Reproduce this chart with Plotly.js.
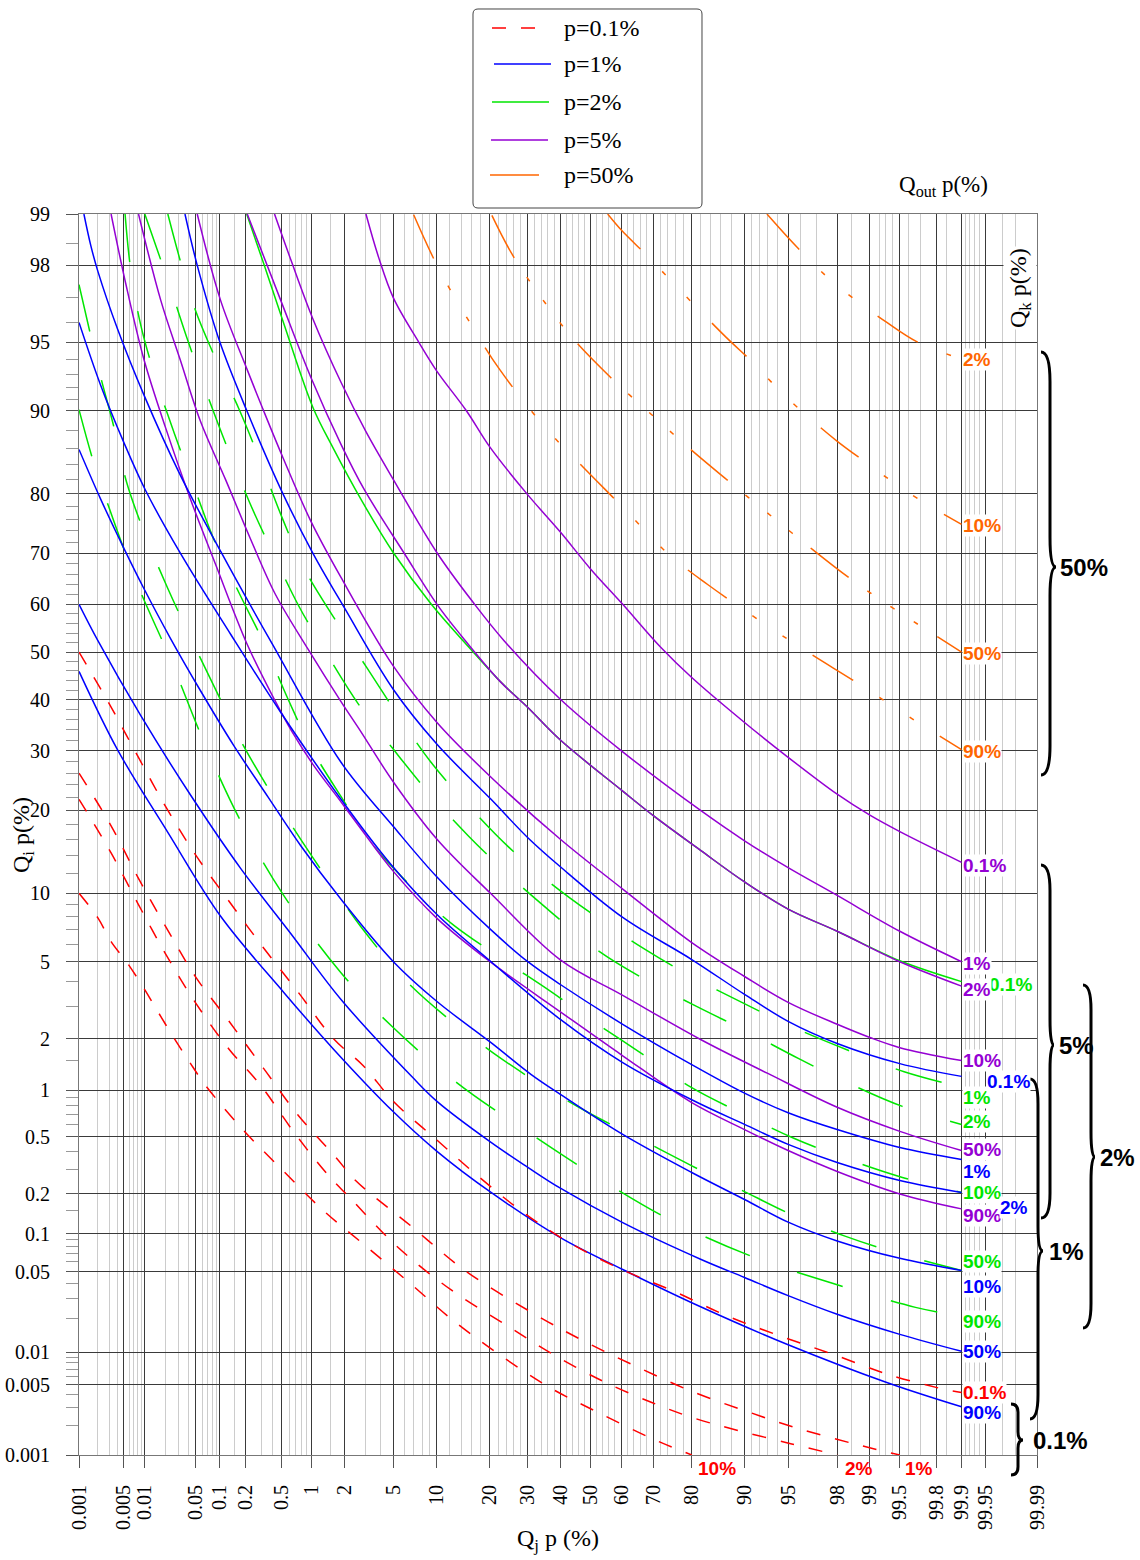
<!DOCTYPE html>
<html>
<head>
<meta charset="utf-8">
<script src="https://cdn.plot.ly/plotly-3.0.1.min.js"></script>
<style>
  html, body { margin: 0; padding: 0; background: #fff; }
  #chart { width: 1140px; height: 1560px; }
</style>
</head>
<body>
<div id="chart"></div>
<script>
// ---------- Axis tick values (percent) ----------
const xTickVals = [0.001, 0.005, 0.01, 0.05, 0.1, 0.2, 0.5, 1, 2, 5, 10, 20, 30, 40, 50, 60, 70, 80, 90, 95, 98, 99, 99.5, 99.8, 99.9, 99.95, 99.99];
const yTickVals = [0.001, 0.005, 0.01, 0.05, 0.1, 0.2, 0.5, 1, 2, 5, 10, 20, 30, 40, 50, 60, 70, 80, 90, 95, 98, 99];
const xMinorVals = [0.002, 0.003, 0.004, 0.006, 0.007, 0.008, 0.009, 0.02, 0.03, 0.04, 0.06, 0.07, 0.08, 0.09, 0.15, 0.3, 0.4,
  0.6, 0.7, 0.8, 0.9, 1.5, 3, 4, 6, 7, 8, 9, 12, 14, 16, 18, 22, 24, 26, 28, 32, 34, 36, 38, 42, 44, 46, 48, 52, 54, 56, 58,
  62, 64, 66, 68, 72, 74, 76, 78, 82, 84, 86, 88, 91, 92, 93, 94, 96, 97, 98.5, 99.2, 99.3, 99.4, 99.6, 99.7, 99.85,
  99.91, 99.92, 99.93, 99.94, 99.97, 99.98];
const yMinorVals = [98.5, 97, 96, 94, 93, 92, 91, 88, 86, 84, 82, 78, 76, 74, 72, 68, 66, 64, 62, 58, 56, 54, 52, 48, 46, 44, 42,
  38, 36, 34, 32, 28, 26, 24, 22, 18, 16, 14, 12, 9, 8, 7, 6, 4, 3, 1.5, 0.9, 0.8, 0.7, 0.6, 0.4, 0.3, 0.15, 0.09, 0.08, 0.07,
  0.06, 0.04, 0.03, 0.02, 0.009, 0.008, 0.007, 0.006, 0.004, 0.003, 0.002];

// ---------- p = 0.1 % (red) : Qj p(%) -> Qi p(%) for each Qk p ----------
const redQk = ['0.1%', '1%', '2%', '10%'];
const redQj = [
  [0.001, 0.0032, 0.008, 0.02, 0.05, 0.128, 0.32, 0.75, 1.6, 2.9, 5, 9.7, 17.3, 28.8, 43.4, 60.2, 75.8, 87.3, 94.3, 97.86, 99.35, 99.84, 99.9],
  [0.001, 0.0032, 0.008, 0.02, 0.05, 0.128, 0.32, 0.73, 1.7, 2.5, 6.7, 15, 33, 49.3, 65.6, 80, 90, 95.6, 98.6, 99.5],
  [0.001, 0.0032, 0.008, 0.02, 0.05, 0.128, 0.30, 0.68, 1.45, 2.2, 5.5, 12.3, 23.5, 37.3, 54.5, 70, 80, 88.7, 95.3, 98],
  [0.001, 0.002, 0.0032, 0.0057, 0.0098, 0.0155, 0.026, 0.041, 0.067, 0.187, 0.5, 1.3, 3.1, 6.6, 12.7, 22, 36, 52.3, 69, 80]
];
const redQi = [
  [50, 38.5, 29, 20.5, 14, 9.3, 5.8, 3.5, 2.0, 1.4, 0.85, 0.49, 0.27, 0.145, 0.084, 0.052, 0.034, 0.021, 0.014, 0.0095, 0.0062, 0.0045, 0.0042],
  [26, 17.8, 11.6, 7.2, 4.2, 2.5, 1.35, 0.7, 0.36, 0.25, 0.115, 0.05, 0.021, 0.012, 0.0072, 0.0043, 0.0028, 0.0019, 0.0013, 0.001],
  [21.7, 14.3, 9.1, 5.4, 3.1, 1.75, 1.06, 0.53, 0.27, 0.19, 0.077, 0.035, 0.018, 0.0097, 0.0053, 0.0033, 0.0024, 0.0018, 0.0013, 0.001],
  [10, 7.9, 6.2, 4.9, 3.7, 2.8, 2.0, 1.48, 1.06, 0.56, 0.30, 0.15, 0.079, 0.040, 0.019, 0.0097, 0.0048, 0.0027, 0.0015, 0.001]
];

// ---------- p = 1 % (blue) ----------
const blueQk = ['0.1%', '1%', '2%', '10%', '50%', '90%'];
const blueQj = [
  [0.036, 0.052, 0.1, 0.21, 0.51, 1.03, 2, 5, 10, 20.3, 30, 40, 60.5, 80, 90, 95, 98, 99.5, 99.9],
  [0.0012, 0.00155, 0.002, 0.004, 0.0098, 0.031, 0.1025, 0.40, 1.87, 5, 10, 20.3, 30, 40, 60.5, 80, 90, 95, 98, 99.5, 99.9],
  [0.001, 0.0022, 0.005, 0.0102, 0.031, 0.135, 0.49, 1.87, 4.78, 10, 20.3, 40, 60.5, 80, 90, 95, 98, 99.5, 99.9],
  [0.001, 0.0022, 0.005, 0.0098, 0.023, 0.057, 0.146, 0.36, 0.78, 1.87, 5, 10, 20.3, 31, 40, 60.5, 80, 90, 95, 98, 99.5, 99.9],
  [0.001, 0.002, 0.0088, 0.043, 0.177, 0.62, 1.87, 6.9, 10, 20.3, 30, 40, 60.5, 82, 90, 95, 98, 99.5, 99.9],
  [0.001, 0.004, 0.0212, 0.1025, 0.526, 1.61, 5.0, 10, 20.3, 40, 60.5, 82, 95, 99.33, 99.9]
];
const blueQi = [
  [99, 98, 95, 89.9, 80.1, 70, 59.3, 42.1, 31.2, 21.7, 16.2, 12.7, 7.93, 5.12, 3.45, 2.49, 1.88, 1.44, 1.21],
  [99, 98.45, 97.84, 95.7, 91.4, 82.7, 70.3, 51.6, 27.9, 17.7, 11.6, 7.0, 5.0, 3.87, 2.4, 1.42, 0.956, 0.72, 0.56, 0.425, 0.352],
  [96, 92.2, 86.7, 80.6, 70.1, 53.7, 37.4, 21.7, 12.97, 8.16, 5.0, 2.55, 1.46, 0.87, 0.605, 0.446, 0.335, 0.25, 0.205],
  [85.9, 79.2, 70.9, 63.2, 52.9, 41.9, 31.0, 22.0, 15.2, 9.45, 5.0, 3.17, 1.9, 1.24, 0.94, 0.52, 0.285, 0.182, 0.123, 0.088, 0.064, 0.051],
  [60, 52.4, 36.8, 22.3, 12.5, 6.75, 3.25, 1.19, 0.85, 0.46, 0.31, 0.22, 0.122, 0.063, 0.0447, 0.0315, 0.0218, 0.0145, 0.0102],
  [45.9, 30.2, 16.9, 8.0, 3.53, 1.74, 0.73, 0.40, 0.205, 0.0935, 0.052, 0.0253, 0.0117, 0.0052, 0.00305]
];

// ---------- p = 2 % (green) ----------
const greenQk = ['0.1%', '1%', '2%', '10%', '50%', '90%'];
const greenQj = [
  [0.207, 0.32, 0.53, 1.03, 1.6, 2.8, 5, 9.2, 15.5, 22.5, 30, 40, 60.5, 70, 82, 90, 95, 98, 99.5, 99.9],
  [0.0212, 0.047, 0.089, 0.172, 0.305, 0.5, 0.86, 1.61, 3.1, 5.3, 9.1, 15.1, 24.5, 36.6, 52.3, 67.1, 80.7, 89.9, 95.8, 98.4, 99.55, 99.9],
  [0.0101, 0.0233, 0.040, 0.071, 0.124, 0.224, 0.41, 0.75, 1.28, 2.66, 4.95, 9.0, 15.3, 25.0, 37.3, 52.3, 67.4, 81.1, 90.3, 95.85, 98.42, 99.53, 99.9],
  [0.0052, 0.0063, 0.0088, 0.0149, 0.0263, 0.0483, 0.0865, 0.168, 0.32, 0.58, 1.0, 1.94, 3.46, 8.72, 12.7, 23.2, 36.0, 52.0, 66.8, 79.8, 89.4, 95.47, 98.32, 99.53, 99.9],
  [0.001, 0.0021, 0.0035, 0.0055, 0.0101, 0.0212, 0.044, 0.092, 0.182, 0.39, 0.80, 1.61, 2.76, 6.06, 11.35, 20.7, 32.9, 49.3, 65.5, 79.8, 89.4, 95.47, 98.32, 99.52, 99.9],
  [0.001, 0.0017, 0.0028, 0.0077, 0.024, 0.063, 0.172, 0.51, 1.86, 4.87, 13.2, 29.7, 52.7, 75.3, 91.0, 97.8, 99.66, 99.9]
];
const greenQi = [
  [99, 98.05, 95.9, 90.3, 86, 79, 70.1, 60, 51, 43.8, 38.4, 32, 23, 19.2, 14.6, 11.1, 8.6, 6.9, 5.05, 4.0],
  [99, 96.7, 94.0, 90.0, 84.0, 76.4, 66.9, 57.3, 46.7, 37.2, 28.0, 21.0, 15.1, 11.05, 7.9, 5.76, 4.15, 3.1, 2.25, 1.72, 1.29, 1.04],
  [99, 97.3, 95.0, 91.26, 86.0, 78.6, 69.8, 59.6, 51.0, 39.0, 30.4, 22.5, 16.5, 11.7, 8.3, 5.65, 4.1, 2.99, 2.2, 1.54, 1.1, 0.79, 0.605],
  [99, 97.89, 95.9, 92.45, 87.6, 80.7, 72.1, 62.4, 52.0, 40.2, 30.4, 21.7, 15.3, 9.17, 7.33, 5.12, 3.66, 2.42, 1.63, 1.04, 0.72, 0.49, 0.357, 0.263, 0.205],
  [97.45, 93.2, 88.5, 81.6, 73.5, 63.2, 52.6, 41.5, 31.5, 22.6, 15.8, 10.46, 7.24, 4.1, 2.64, 1.67, 1.11, 0.72, 0.49, 0.32, 0.215, 0.138, 0.0955, 0.0687, 0.051],
  [90.1, 84.4, 78.6, 64.4, 47.8, 31.7, 18.7, 9.97, 4.44, 2.34, 1.11, 0.545, 0.259, 0.125, 0.0664, 0.040, 0.025, 0.0209]
];

// ---------- p = 5 % (purple) ----------
const purpleQk = ['0.1%', '1%', '2%', '10%', '50%', '90%'];
const purpleQj = [
  [3.05, 3.86, 5, 7.6, 10, 15, 20, 30, 40, 50, 60.5, 72, 80, 90, 95, 98, 99, 99.5, 99.9],
  [0.42, 0.63, 1.02, 1.87, 3.05, 5, 10, 16.5, 23.5, 40, 60.5, 82, 90, 95, 98, 99.5, 99.9],
  [0.21, 0.49, 0.98, 1.87, 2.95, 6.0, 10, 14, 22.5, 30, 40, 60.5, 70, 82, 90, 95, 98, 99.5, 99.9],
  [0.052, 0.102, 0.21, 0.32, 0.52, 0.98, 1.87, 5, 10, 20.3, 40, 60.5, 80, 90, 95, 98, 99, 99.5, 99.9],
  [0.0082, 0.017, 0.031, 0.057, 0.117, 0.23, 0.43, 0.93, 1.87, 2.7, 5, 10, 20.3, 40, 60.5, 82, 93, 98, 99.5, 99.9],
  [0.0032, 0.0053, 0.0098, 0.02, 0.043, 0.089, 0.21, 0.42, 0.63, 1.05, 1.78, 2.8, 5, 10, 20.3, 40, 60.5, 80, 90, 95, 98, 99.5, 99.9]
];
const purpleQi = [
  [99, 98.19, 97, 95, 93.2, 90, 86.2, 79.8, 73.8, 67, 60, 51, 44.6, 35.4, 28.8, 22.5, 19.3, 17.0, 13.2],
  [99, 98.1, 96.2, 92.4, 87.9, 82.0, 70.1, 60.2, 52.4, 40.1, 29.8, 20.0, 15.8, 12.6, 9.8, 6.9, 5],
  [99, 96.9, 92.8, 86.5, 80.6, 70, 60, 53.5, 43.8, 38.4, 32, 23, 19.2, 14.6, 11.1, 8.6, 6.9, 5, 3.8],
  [99, 96.9, 93.3, 90.0, 84.8, 75.7, 65.4, 47, 35.4, 25.3, 16.0, 10.4, 6.14, 4.24, 3.14, 2.4, 2.03, 1.78, 1.5],
  [99, 96.9, 94, 89, 82, 72.5, 62, 50.5, 39.6, 34, 24.5, 16, 9.95, 5.1, 3.41, 1.98, 1.26, 0.78, 0.545, 0.405],
  [99, 97.5, 94, 88.2, 79, 67.8, 51.6, 40, 33.8, 27.3, 21.8, 17.3, 12.2, 7.86, 4.96, 2.8, 1.6, 0.835, 0.56, 0.405, 0.29, 0.2, 0.155]
];

// ---------- p = 50 % (orange) ----------
const orangeQk = ['2%', '10%', '50%', '90%'];
const orangeQj = [
  [92.9, 95.8, 97.86, 98.7, 99.32, 99.67, 99.9],
  [55.6, 60.2, 68, 75.0, 80.2, 87.1, 91.15, 94.05, 95.85, 97.98, 98.88, 99.42, 99.69, 99.9],
  [20.5, 25.8, 35.1, 44.4, 56.6, 70.0, 79.3, 87.6, 93.6, 96.6, 98.55, 99.5, 99.9],
  [7.0, 10.4, 16.3, 22.2, 34.8, 46.7, 60.5, 74.2, 83.5, 92.9, 96.7, 98.7, 99.68, 99.9]
];
const orangeQi = [
  [99, 98.4, 97.5, 96.86, 96.0, 95.04, 94.0],
  [99, 98.74, 98.24, 97.55, 96.8, 95.25, 93.8, 91.9, 90.2, 86.9, 84.4, 81.6, 79.1, 75.1],
  [98.98, 98.24, 96.83, 95.15, 92.76, 89.45, 86.1, 81.7, 76.2, 71.1, 64.8, 58.3, 50],
  [98.99, 97.86, 95.76, 93.4, 88.5, 84.0, 77.9, 69.8, 64.0, 55.6, 49.5, 43.4, 35.4, 30.2]
];

// ---------- Legend entries and bracket groups ----------
const legendNames = ['p=0.1%', 'p=1%', 'p=2%', 'p=5%', 'p=50%'];
const braceNames = ['50%', '5%', '2%', '1%', '0.1%'];

// ---------- Normal-probability scale ----------
function probit(p) {
  const a = [-3.969683028665376e+01, 2.209460984245205e+02, -2.759285104469687e+02, 1.383577518672690e+02, -3.066479806614716e+01, 2.506628277459239e+00];
  const b = [-5.447609879822406e+01, 1.615858368580409e+02, -1.556989798598866e+02, 6.680131188771972e+01, -1.328068155288572e+01];
  const c = [-7.784894002430293e-03, -3.223964580411365e-01, -2.400758277161838e+00, -2.549732539343734e+00, 4.374664141464968e+00, 2.938163982698783e+00];
  const d = [7.784695709041462e-03, 3.224671290700398e-01, 2.445134137142996e+00, 3.754408661907416e+00];
  const pl = 0.02425, ph = 1 - pl;
  let q, r;
  if (p < pl) {
    q = Math.sqrt(-2 * Math.log(p));
    return (((((c[0]*q + c[1])*q + c[2])*q + c[3])*q + c[4])*q + c[5]) / ((((d[0]*q + d[1])*q + d[2])*q + d[3])*q + 1);
  }
  if (p <= ph) {
    q = p - 0.5; r = q * q;
    return (((((a[0]*r + a[1])*r + a[2])*r + a[3])*r + a[4])*r + a[5])*q / (((((b[0]*r + b[1])*r + b[2])*r + b[3])*r + b[4])*r + 1);
  }
  q = Math.sqrt(-2 * Math.log(1 - p));
  return -(((((c[0]*q + c[1])*q + c[2])*q + c[3])*q + c[4])*q + c[5]) / ((((d[0]*q + d[1])*q + d[2])*q + d[3])*q + 1);
}
const z = pct => probit(pct / 100);

// ---------- Page geometry ----------
const W = 1140, H = 1560, ML = 79, MR = 103, MT = 214, MB = 105;
const PW = W - ML - MR, PH = H - MT - MB;
const fx = px => (px - ML) / PW;
const fy = py => 1 - (py - MT) / PH;

const SERIF = 'Liberation Serif, Times New Roman, serif';
const SANS = 'Liberation Sans, Arial, sans-serif';

const ORANGE_DASH = '48px,31px,5px,31px,5px,31px';
const ORANGE_DASH3 = '48px,23px,5px,23px,5px,23px,5px,23px';
const GREEN_DASH = '48px,50px';
const RED_DASH = '14px,15px';

// Family styles, drawn in this order (bottom to top)
const families = [
  { key: 'green', color: '#00e600', qk: greenQk, xs: greenQj, ys: greenQi,
    dash: ['solid', GREEN_DASH, GREEN_DASH, GREEN_DASH, GREEN_DASH, GREEN_DASH],
    shift: [[26, -3], [0, -10], [0, 3], [0, 0], [0, 9], [0, -5]] },
  { key: 'purple', color: '#9400d3', qk: purpleQk, xs: purpleQj, ys: purpleQi,
    dash: ['solid', 'solid', 'solid', 'solid', 'solid', 'solid'],
    shift: [[0, -3], [0, -2], [0, -3], [0, 0], [0, 1], [0, -7]] },
  { key: 'blue', color: '#0000ff', qk: blueQk, xs: blueQj, ys: blueQi,
    dash: ['solid', 'solid', 'solid', 'solid', 'solid', 'solid'],
    shift: [[24, -5], [0, -12], [37, -15], [0, -16], [0, 0], [0, -6]] },
  { key: 'red', color: '#ff0000', qk: redQk, xs: redQj, ys: redQi,
    dash: [RED_DASH, RED_DASH, RED_DASH, RED_DASH],
    shift: [[0, 0], [4, 0], [7, 0], [5, 0]], bottom: [false, true, true, true] },
  { key: 'orange', color: '#ff6600', qk: orangeQk, xs: orangeQj, ys: orangeQi,
    dash: [ORANGE_DASH, ORANGE_DASH, ORANGE_DASH3, ORANGE_DASH],
    shift: [[0, 0], [0, -1], [0, -1], [0, -2]] }
];

const traces = [];
const annotations = [];

families.forEach(f => {
  f.xs.forEach((xs, i) => {
    const ys = f.ys[i];
    traces.push({
      type: 'scatter', mode: 'lines',
      name: f.key + ' ' + f.qk[i],
      x: xs.map(z), y: ys.map(z),
      line: { color: f.color, width: 1.5, dash: f.dash[i], shape: 'spline', smoothing: 1 },
      hoverinfo: 'skip', showlegend: false
    });
    const lx = xs[xs.length - 1], ly = ys[ys.length - 1];
    const atBottom = f.bottom && f.bottom[i];
    annotations.push({
      xref: 'x', yref: 'y', x: z(lx), y: z(ly),
      xanchor: 'left', yanchor: atBottom ? 'top' : 'middle',
      xshift: f.shift[i][0], yshift: atBottom ? -2 : f.shift[i][1],
      text: '<b>' + f.qk[i] + '</b>', showarrow: false,
      font: { family: SANS, size: 19, color: f.color },
      bgcolor: atBottom ? 'rgba(0,0,0,0)' : '#ffffff', borderpad: 0
    });
  });
});

// ---------- Legend drawn in the top margin ----------
const legendColors = ['#ff0000', '#0000ff', '#00e600', '#9400d3', '#ff6600'];
const legendDash = [RED_DASH, 'solid', 'solid', 'solid', 'solid'];
const legendRowsY = [28, 64, 102, 140, 175];
const legendLineX = [[492, 535], [494, 551], [492, 549], [491, 548], [490, 539]];
const shapes = [];

(function legendBox() {
  const x0 = 473, x1 = 702, y0 = 9, y1 = 208, r = 5;
  const P = (x, y) => fx(x).toFixed(5) + ',' + fy(y).toFixed(5);
  const path = 'M' + P(x0 + r, y0) + ' L' + P(x1 - r, y0) + ' Q' + P(x1, y0) + ' ' + P(x1, y0 + r) +
    ' L' + P(x1, y1 - r) + ' Q' + P(x1, y1) + ' ' + P(x1 - r, y1) + ' L' + P(x0 + r, y1) +
    ' Q' + P(x0, y1) + ' ' + P(x0, y1 - r) + ' L' + P(x0, y0 + r) + ' Q' + P(x0, y0) + ' ' + P(x0 + r, y0) + ' Z';
  shapes.push({ type: 'path', xref: 'paper', yref: 'paper', path: path, line: { color: '#444', width: 1 }, fillcolor: '#ffffff' });
})();

legendNames.forEach((name, i) => {
  shapes.push({
    type: 'line', xref: 'paper', yref: 'paper',
    x0: fx(legendLineX[i][0]), x1: fx(legendLineX[i][1]), y0: fy(legendRowsY[i]), y1: fy(legendRowsY[i]),
    line: { color: legendColors[i], width: 1.5, dash: legendDash[i] }
  });
  annotations.push({
    xref: 'paper', yref: 'paper', x: fx(562), y: fy(legendRowsY[i]), xanchor: 'left', yanchor: 'middle',
    text: name, showarrow: false, font: { family: SERIF, size: 24, color: '#000' }
  });
});

// ---------- Curly brackets grouping the curve labels ----------
const braceGeom = [
  { x0: 1041, xs: 1050, xt: 1056, top: 352, mid: 567, bot: 775, lx: 1058 },
  { x0: 1041, xs: 1050, xt: 1054, top: 865, mid: 1045, bot: 1218, lx: 1057 },
  { x0: 1083, xs: 1091, xt: 1095, top: 985, mid: 1157, bot: 1328, lx: 1098 },
  { x0: 1030, xs: 1038, xt: 1043, top: 1079, mid: 1251, bot: 1419, lx: 1047 },
  { x0: 1011, xs: 1018, xt: 1023, top: 1404, mid: 1440, bot: 1475, lx: 1031 }
];
braceGeom.forEach((b, i) => {
  const h1 = 0.12 * (b.mid - b.top) + 4, h2 = 0.12 * (b.bot - b.mid) + 4;
  const P = (x, y) => fx(x).toFixed(5) + ',' + fy(y).toFixed(5);
  const path = 'M' + P(b.x0, b.top) + ' Q' + P(b.xs, b.top) + ' ' + P(b.xs, b.top + h1) +
    ' L' + P(b.xs, b.mid - h1) + ' Q' + P(b.xs, b.mid) + ' ' + P(b.xt, b.mid) +
    ' Q' + P(b.xs, b.mid) + ' ' + P(b.xs, b.mid + h2) +
    ' L' + P(b.xs, b.bot - h2) + ' Q' + P(b.xs, b.bot) + ' ' + P(b.x0, b.bot);
  shapes.push({ type: 'path', xref: 'paper', yref: 'paper', path: path, line: { color: '#000', width: 3 } });
  annotations.push({
    xref: 'paper', yref: 'paper', x: fx(b.lx), y: fy(b.mid), xanchor: 'left', yanchor: 'middle',
    text: '<b>' + braceNames[i] + '</b>', showarrow: false, font: { family: SANS, size: 24, color: '#000' }
  });
});

// ---------- Axis titles and side captions ----------
annotations.push(
  { xref: 'paper', yref: 'paper', x: fx(558), y: fy(1540), xanchor: 'center', yanchor: 'middle', showarrow: false,
    text: 'Q<sub>j</sub> p (%)', font: { family: SERIF, size: 24, color: '#000' } },
  { xref: 'paper', yref: 'paper', x: fx(23), y: fy(835), xanchor: 'center', yanchor: 'middle', showarrow: false,
    textangle: -90, text: 'Q<sub>i</sub> p(%)', font: { family: SERIF, size: 24, color: '#000' } },
  { xref: 'paper', yref: 'paper', x: fx(943), y: fy(186), xanchor: 'center', yanchor: 'middle', showarrow: false,
    text: 'Q<sub>out</sub> p(%)', font: { family: SERIF, size: 23, color: '#000' } },
  { xref: 'paper', yref: 'paper', x: fx(1020), y: fy(288), xanchor: 'center', yanchor: 'middle', showarrow: false,
    textangle: -90, text: 'Q<sub>k</sub> p(%)', font: { family: SERIF, size: 24, color: '#000' }, bgcolor: '#ffffff' }
);

const layout = {
  width: W, height: H,
  margin: { l: ML, r: MR, t: MT, b: MB, pad: 0 },
  paper_bgcolor: '#ffffff', plot_bgcolor: '#ffffff',
  showlegend: false, hovermode: false,
  xaxis: {
    range: [z(0.001), z(99.99)], tickmode: 'array',
    tickvals: xTickVals.map(z), ticktext: xTickVals.map(String),
    tickangle: -90, ticks: 'outside', ticklen: 12, tickcolor: '#555', tickwidth: 1,
    ticklabelstandoff: 9,
    tickfont: { family: SERIF, size: 20, color: '#000' },
    showgrid: true, gridcolor: '#3a3a3a', gridwidth: 1, zeroline: false,
    showline: true, linecolor: '#777', linewidth: 1, mirror: true,
    minor: { tickmode: 'array', tickvals: xMinorVals.map(z), showgrid: true, gridcolor: '#cccccc', gridwidth: 1, ticks: '' }
  },
  yaxis: {
    range: [z(0.001), z(99)], tickmode: 'array',
    tickvals: yTickVals.map(z), ticktext: yTickVals.map(String),
    ticks: 'outside', ticklen: 12, tickcolor: '#555', tickwidth: 1,
    ticklabelstandoff: 12,
    tickfont: { family: SERIF, size: 20, color: '#000' },
    showgrid: true, gridcolor: '#3a3a3a', gridwidth: 1, zeroline: false,
    showline: true, linecolor: '#777', linewidth: 1, mirror: true,
    minor: { tickmode: 'array', tickvals: yMinorVals.map(z), ticks: 'outside', ticklen: 12, tickcolor: '#999', tickwidth: 1, showgrid: false }
  },
  shapes: shapes,
  annotations: annotations
};

Plotly.newPlot('chart', traces, layout, { displayModeBar: false, staticPlot: true });
</script>
</body>
</html>
